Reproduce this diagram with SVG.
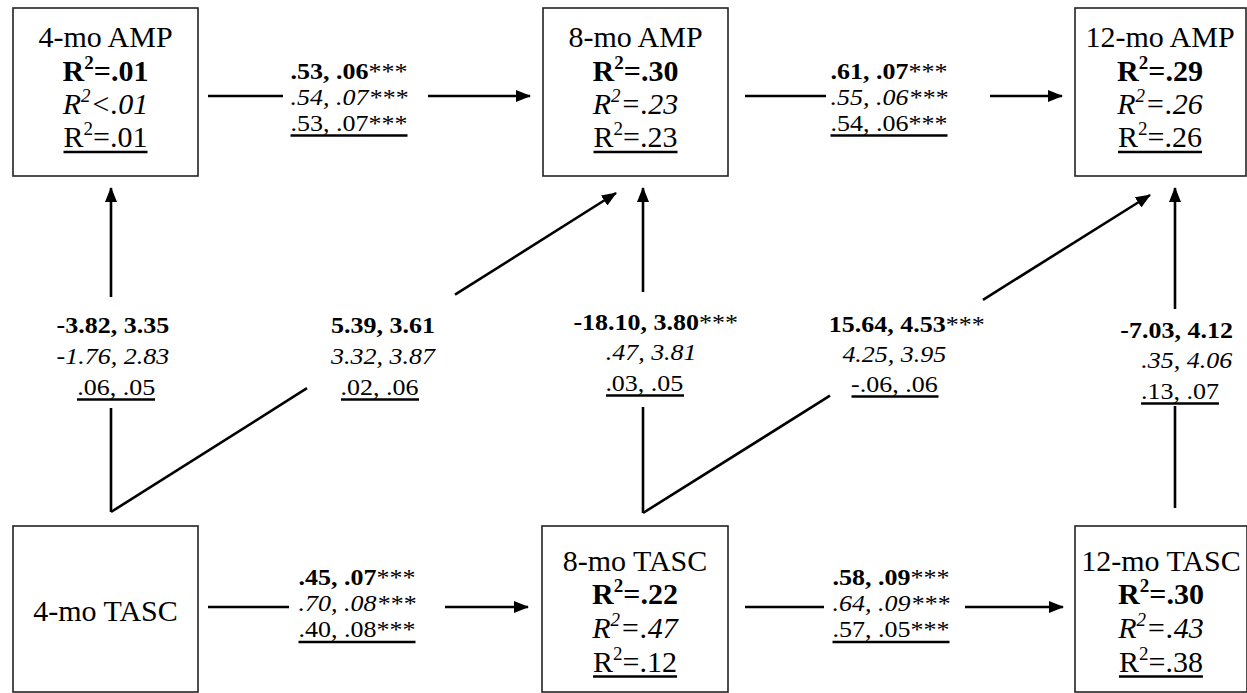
<svg xmlns="http://www.w3.org/2000/svg" width="1247" height="693" viewBox="0 0 1247 693">
  <style>
    text { font-family: "Liberation Serif", "Times New Roman", serif; fill: #000; text-anchor: middle; }
    .nt { font-size: 30px; }
    .et { font-size: 23px; }
    .b { font-weight: bold; }
    .i { font-style: italic; }
    .n { font-weight: normal; }
    .sup { font-size: 19px; }
    .box { fill: #fff; stroke: #222; stroke-width: 1.6; }
    .conn { fill: none; stroke: #000; stroke-width: 2.6; }
    .arr { fill: none; stroke: #000; stroke-width: 2.6; marker-end: url(#ah); }
    .ul { stroke: #000; stroke-width: 2.6; }
  </style>
  <defs>
    <marker id="ah" markerUnits="userSpaceOnUse" markerWidth="15" markerHeight="12" refX="14" refY="6" orient="auto">
      <path d="M0,0 L15,6 L0,12 z" fill="#000"/>
    </marker>
  </defs>

  <rect width="1247" height="693" fill="#fff"/>

  <!-- connectors with their path coefficients (labels set slightly condensed vertically) -->
  <g id="connectors">
    <!-- 4-mo AMP -> 8-mo AMP -->
    <g id="e-amp4-amp8">
      <line class="conn" x1="208" y1="96" x2="283" y2="96"/>
      <line class="arr" x1="428" y1="96" x2="530" y2="96"/>
      <g transform="matrix(1.13 0 0 1 -45.37 0)">
        <text class="et b" x="349" y="79">.53, .06<tspan class="n">***</tspan></text>
        <text class="et i" x="349" y="105">.54, .07***</text>
        <text class="et" x="349" y="131">.53, .07***</text>
      </g>
      <line class="ul" x1="290.5" y1="135.5" x2="407.5" y2="135.5"/>
    </g>
    <!-- 8-mo AMP -> 12-mo AMP -->
    <g id="e-amp8-amp12">
      <line class="conn" x1="745" y1="96" x2="826" y2="96"/>
      <line class="arr" x1="990" y1="96" x2="1062" y2="96"/>
      <g transform="matrix(1.13 0 0 1 -115.57 0)">
        <text class="et b" x="889" y="79">.61, .07<tspan class="n">***</tspan></text>
        <text class="et i" x="889" y="105">.55, .06***</text>
        <text class="et" x="889" y="131">.54, .06***</text>
      </g>
      <line class="ul" x1="830.5" y1="135.5" x2="947.5" y2="135.5"/>
    </g>
    <!-- 4-mo TASC -> 8-mo TASC -->
    <g id="e-tasc4-tasc8">
      <line class="conn" x1="208" y1="607" x2="289" y2="607"/>
      <line class="arr" x1="445" y1="607" x2="528" y2="607"/>
      <g transform="matrix(1.13 0 0 1 -46.41 0)">
        <text class="et b" x="357" y="585">.45, .07<tspan class="n">***</tspan></text>
        <text class="et i" x="357" y="611">.70, .08***</text>
        <text class="et" x="357" y="637">.40, .08***</text>
      </g>
      <line class="ul" x1="298.5" y1="642" x2="415.5" y2="642"/>
    </g>
    <!-- 8-mo TASC -> 12-mo TASC -->
    <g id="e-tasc8-tasc12">
      <line class="conn" x1="745" y1="607" x2="824" y2="607"/>
      <line class="arr" x1="965" y1="607" x2="1063" y2="607"/>
      <g transform="matrix(1.13 0 0 1 -115.83 0)">
        <text class="et b" x="891" y="585">.58, .09<tspan class="n">***</tspan></text>
        <text class="et i" x="891" y="611">.64, .09***</text>
        <text class="et" x="891" y="637">.57, .05***</text>
      </g>
      <line class="ul" x1="832.5" y1="642" x2="949.5" y2="642"/>
    </g>
    <!-- 4-mo TASC -> 4-mo AMP -->
    <g id="e-tasc4-amp4">
      <line class="conn" x1="111" y1="512" x2="111" y2="408"/>
      <line class="arr" x1="111" y1="297" x2="111" y2="188"/>
      <g transform="matrix(1.13 0 0 1 -14.82 0)">
        <text class="et b" x="113" y="333">-3.82, 3.35</text>
        <text class="et i" x="113" y="364">-1.76, 2.83</text>
        <text class="et" x="116" y="395">.06, .05</text>
      </g>
      <line class="ul" x1="77" y1="399.5" x2="155" y2="399.5"/>
    </g>
    <!-- 4-mo TASC -> 8-mo AMP -->
    <g id="e-tasc4-amp8">
      <line class="conn" x1="111" y1="512" x2="307" y2="388.2"/>
      <line class="arr" x1="455" y1="294.7" x2="616" y2="193"/>
      <g transform="matrix(1.13 0 0 1 -49.79 0)">
        <text class="et b" x="383" y="333">5.39, 3.61</text>
        <text class="et i" x="383" y="364">3.32, 3.87</text>
        <text class="et" x="380" y="395">.02, .06</text>
      </g>
      <line class="ul" x1="341" y1="399.5" x2="419" y2="399.5"/>
    </g>
    <!-- 8-mo TASC -> 8-mo AMP -->
    <g id="e-tasc8-amp8">
      <line class="conn" x1="643" y1="513" x2="643" y2="407"/>
      <line class="arr" x1="643" y1="292" x2="643" y2="188"/>
      <g transform="matrix(1.13 0 0 1 -84.5 0)">
        <text class="et b" x="655" y="330">-18.10, 3.80<tspan class="n">***</tspan></text>
        <text class="et i" x="651" y="360">.47, 3.81</text>
        <text class="et" x="645" y="391">.03, .05</text>
      </g>
      <line class="ul" x1="606" y1="395.5" x2="684" y2="395.5"/>
    </g>
    <!-- 8-mo TASC -> 12-mo AMP -->
    <g id="e-tasc8-amp12">
      <line class="conn" x1="643" y1="513" x2="830" y2="395.7"/>
      <line class="arr" x1="983" y1="299.8" x2="1150" y2="195"/>
      <g transform="matrix(1.13 0 0 1 -117 0)">
        <text class="et b" x="906" y="332">15.64, 4.53<tspan class="n">***</tspan></text>
        <text class="et i" x="895" y="362">4.25, 3.95</text>
        <text class="et" x="895" y="392">-.06, .06</text>
      </g>
      <line class="ul" x1="851.5" y1="396.5" x2="938.5" y2="396.5"/>
    </g>
    <!-- 12-mo TASC -> 12-mo AMP -->
    <g id="e-tasc12-amp12">
      <line class="conn" x1="1175" y1="508" x2="1175" y2="406"/>
      <line class="arr" x1="1175" y1="309" x2="1175" y2="188"/>
      <g transform="matrix(1.13 0 0 1 -153.4 0)">
        <text class="et b" x="1177" y="338">-7.03, 4.12</text>
        <text class="et i" x="1186" y="368">.35, 4.06</text>
        <text class="et" x="1180" y="399">.13, .07</text>
      </g>
      <line class="ul" x1="1141" y1="403.5" x2="1219" y2="403.5"/>
    </g>
  </g>

  <!-- measurement nodes -->
  <g id="amp4">
    <rect class="box" x="13" y="8" width="185" height="168"/>
    <text class="nt" x="105.5" y="47">4-mo AMP</text>
    <text class="nt b" x="105.5" y="81">R<tspan class="sup" dy="-12">2</tspan><tspan dy="12">=.01</tspan></text>
    <text class="nt i" x="105.5" y="114">R<tspan class="sup" dy="-12">2</tspan><tspan dy="12">&lt;.01</tspan></text>
    <text class="nt" x="105.5" y="147">R<tspan class="sup" dy="-12">2</tspan><tspan dy="12">=.01</tspan></text>
    <line class="ul" x1="63.5" y1="152" x2="147.5" y2="152"/>
  </g>
  <g id="amp8">
    <rect class="box" x="543" y="8" width="185" height="168"/>
    <text class="nt" x="635.5" y="47">8-mo AMP</text>
    <text class="nt b" x="635.5" y="81">R<tspan class="sup" dy="-12">2</tspan><tspan dy="12">=.30</tspan></text>
    <text class="nt i" x="635.5" y="114">R<tspan class="sup" dy="-12">2</tspan><tspan dy="12">=.23</tspan></text>
    <text class="nt" x="635.5" y="147">R<tspan class="sup" dy="-12">2</tspan><tspan dy="12">=.23</tspan></text>
    <line class="ul" x1="593.5" y1="152" x2="677.5" y2="152"/>
  </g>
  <g id="amp12">
    <rect class="box" x="1075" y="8" width="171" height="168"/>
    <text class="nt" x="1160" y="47">12-mo AMP</text>
    <text class="nt b" x="1160" y="81">R<tspan class="sup" dy="-12">2</tspan><tspan dy="12">=.29</tspan></text>
    <text class="nt i" x="1160" y="114">R<tspan class="sup" dy="-12">2</tspan><tspan dy="12">=.26</tspan></text>
    <text class="nt" x="1160" y="147">R<tspan class="sup" dy="-12">2</tspan><tspan dy="12">=.26</tspan></text>
    <line class="ul" x1="1118" y1="152" x2="1202" y2="152"/>
  </g>
  <g id="tasc4">
    <rect class="box" x="13" y="526" width="185" height="166"/>
    <text class="nt" x="105.5" y="621">4-mo TASC</text>
  </g>
  <g id="tasc8">
    <rect class="box" x="542" y="526" width="186" height="166"/>
    <text class="nt" x="635" y="571">8-mo TASC</text>
    <text class="nt b" x="635" y="604">R<tspan class="sup" dy="-12">2</tspan><tspan dy="12">=.22</tspan></text>
    <text class="nt i" x="635" y="638">R<tspan class="sup" dy="-12">2</tspan><tspan dy="12">=.47</tspan></text>
    <text class="nt" x="635" y="672">R<tspan class="sup" dy="-12">2</tspan><tspan dy="12">=.12</tspan></text>
    <line class="ul" x1="593" y1="676.5" x2="677" y2="676.5"/>
  </g>
  <g id="tasc12">
    <rect class="box" x="1075" y="526" width="172" height="166"/>
    <text class="nt" x="1161" y="571">12-mo TASC</text>
    <text class="nt b" x="1161" y="604">R<tspan class="sup" dy="-12">2</tspan><tspan dy="12">=.30</tspan></text>
    <text class="nt i" x="1161" y="638">R<tspan class="sup" dy="-12">2</tspan><tspan dy="12">=.43</tspan></text>
    <text class="nt" x="1161" y="672">R<tspan class="sup" dy="-12">2</tspan><tspan dy="12">=.38</tspan></text>
    <line class="ul" x1="1119" y1="676.5" x2="1203" y2="676.5"/>
  </g>
</svg>
